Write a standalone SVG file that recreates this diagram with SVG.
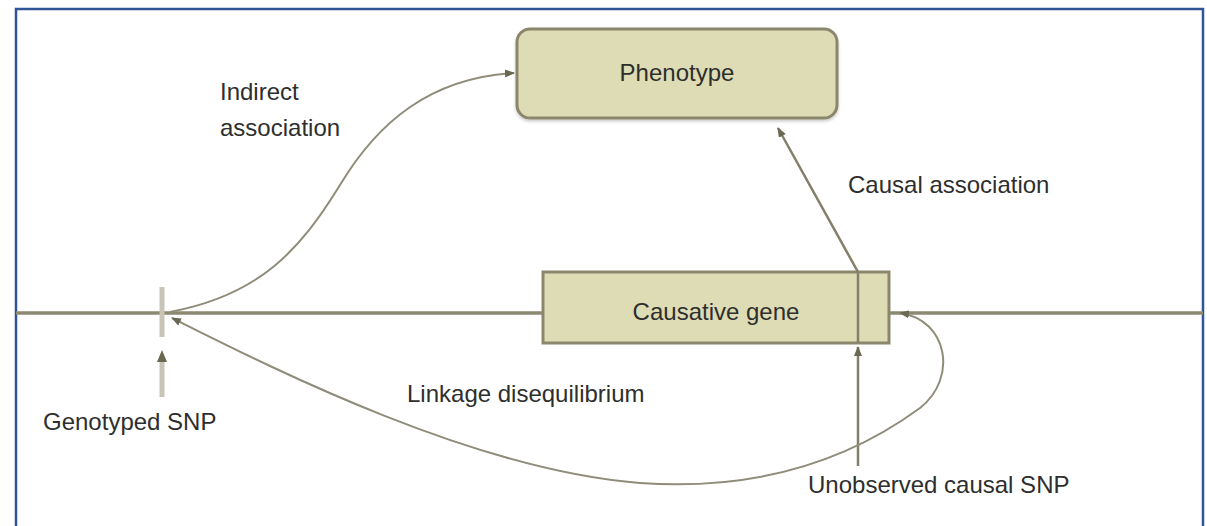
<svg xmlns="http://www.w3.org/2000/svg" width="1207" height="526" viewBox="0 0 1207 526">
  <style>
    .lbl { font-family: "Liberation Sans", Arial, sans-serif; font-size: 24px; fill: #2e2e2e; }
    .box { fill: #dedcb4; stroke: #8a876d; stroke-width: 3; }
    .chrom { stroke: #8c8973; stroke-width: 3.5; fill: none; }
    .conn { stroke: #8f8c7a; stroke-width: 2; fill: none; }
    .snp { stroke: #c9c5b6; stroke-width: 5; fill: none; }
  </style>
  <defs>
    <marker id="arrow" viewBox="0 0 10 8" refX="9" refY="4" markerWidth="10" markerHeight="8" markerUnits="userSpaceOnUse" orient="auto-start-reverse">
      <path d="M0,0 L10,4 L0,8 Z" fill="#6b6852"/>
    </marker>
    <filter id="shadow" x="-5%" y="-10%" width="110%" height="130%">
      <feDropShadow dx="0" dy="2" stdDeviation="1.5" flood-color="#000" flood-opacity="0.2"/>
    </filter>
  </defs>

  <!-- outer frame -->
  <path d="M16,527 V9 H1203 V527" fill="none" stroke="#2f5597" stroke-width="2.5"/>

  <!-- chromosome line -->
  <g id="chromosome">
    <line class="chrom" x1="16" y1="313" x2="543" y2="313"/>
    <line class="chrom" x1="889" y1="313" x2="1203" y2="313"/>
  </g>

  <g id="phenotype">
    <rect class="box" x="517" y="29" width="320" height="89" rx="13" filter="url(#shadow)"/>
    <text class="lbl" x="677" y="81" text-anchor="middle">Phenotype</text>
  </g>

  <g id="causative-gene">
    <rect class="box" x="543" y="272" width="346" height="71"/>
    <text class="lbl" x="716" y="320" text-anchor="middle">Causative gene</text>
  </g>

  <g id="genotyped-snp">
    <line class="snp" x1="162" y1="287" x2="162" y2="337"/>
    <text class="lbl" x="43" y="430">Genotyped SNP</text>
  </g>

  <g id="unobserved-snp">
    <text class="lbl" x="808" y="493">Unobserved causal SNP</text>
  </g>

  <g id="connectors">
    <!-- genotyped SNP pointer -->
    <line class="snp" x1="162" y1="397" x2="162" y2="360"/>
    <path d="M157,362 L162,350 L167,362 Z" fill="#6b6852"/>
    <!-- unobserved SNP pointer -->
    <line x1="858" y1="466" x2="858" y2="347" stroke="#837f68" stroke-width="2.5" marker-end="url(#arrow)"/>
    <!-- indirect association -->
    <path class="conn" d="M170,312 C260,295 300,250 340,185 C378,122 430,78 514,73" marker-end="url(#arrow)"/>
    <!-- causal association -->
    <path d="M858,343 L858,272 L778,128" fill="none" stroke="#837f68" stroke-width="2.5" marker-end="url(#arrow)"/>
    <!-- linkage disequilibrium -->
    <path class="conn" d="M172,318 C260,362 470,470 640,483 C770,492 860,452 920,408 C958,378 948,320 900,313" marker-start="url(#arrow)" marker-end="url(#arrow)"/>
  </g>

  <g id="labels">
    <text class="lbl" x="220" y="100">Indirect</text>
    <text class="lbl" x="220" y="136">association</text>
    <text class="lbl" x="848" y="193">Causal association</text>
    <text class="lbl" x="407" y="402">Linkage disequilibrium</text>
  </g>
</svg>
